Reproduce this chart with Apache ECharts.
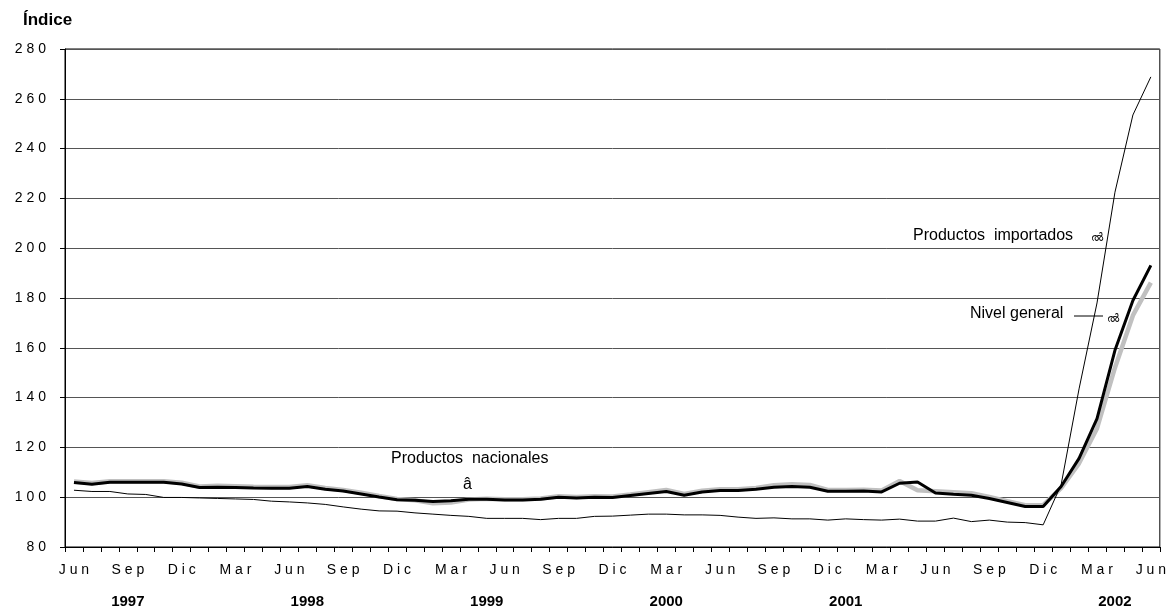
<!DOCTYPE html>
<html>
<head>
<meta charset="utf-8">
<script src="https://cdn.jsdelivr.net/npm/echarts@6/dist/echarts.min.js"></script>
<style>
  html, body { margin: 0; padding: 0; background: #fff; }
  #chart { width: 1169px; height: 609px; }
</style>
</head>
<body>
<div id="chart"></div>
<script>
// month names and the first month of the series (Jun 1997 .. Jun 2002)
const monthNames = ['Ene', 'Feb', 'Mar', 'Abr', 'May', 'Jun', 'Jul', 'Ago', 'Sep', 'Oct', 'Nov', 'Dic']
const startYear = 1997
const startMonth = 5

const categories = []
for (let i = 0; i < 61; i++) {
  const m = (startMonth + i) % 12
  const y = startYear + Math.floor((startMonth + i) / 12)
  categories.push(monthNames[m] + ' ' + y)
}

// year captions under the month labels, and the month each one sits under
const yearLabels = ['1997', '1998', '1999', '2000', '2001', '2002']
const yearAnchors = ['Sep 1997', 'Jul 1998', 'May 1999', 'Mar 2000', 'Ene 2001', 'Abr 2002']

const yTicks = { min: 80, max: 280, step: 20 }

const nivelGeneral = [
  105.9, 105.2, 106.0, 106.0, 106.0, 106.0, 105.3, 103.9, 104.0, 103.9, 103.7, 103.6, 103.6, 104.3, 103.2,
  102.5, 101.3, 100.1, 99.0, 98.8, 98.3, 98.6, 99.2, 99.2, 98.9, 98.9, 99.2, 100.0, 99.7, 100.0,
  99.9, 100.7, 101.5, 102.3, 100.8, 102.1, 102.7, 102.7, 103.2, 104.0, 104.3, 104.0, 102.4, 102.4, 102.5,
  102.1, 105.6, 106.1, 101.7, 101.2, 100.8, 99.5, 97.9, 96.3, 96.3,
  104.3, 115.6, 131.6, 159.0, 179.0, 193.1
]

const productosNacionales = [
  106.3, 105.7, 106.4, 106.4, 106.4, 106.4, 105.8, 104.3, 104.6, 104.4, 104.2, 104.1, 104.1, 104.8, 103.7,
  102.9, 101.8, 100.5, 99.3, 98.8, 97.6, 97.9, 99.1, 99.4, 99.2, 99.2, 99.5, 100.4, 100.1, 100.4,
  100.3, 101.1, 102.0, 102.9, 101.3, 102.6, 103.2, 103.2, 103.7, 104.8, 105.2, 104.9, 102.9, 102.9, 103.0,
  102.7, 106.5, 102.8, 102.4, 102.0, 101.6, 100.1, 98.4, 96.8, 96.8,
  103.6, 113.6, 127.6, 152.0, 173.0, 186.2
]

const productosImportados = [
  102.8, 102.3, 102.3, 101.3, 101.1, 99.9, 99.9, 99.7, 99.5, 99.3, 99.1, 98.4, 98.1, 97.7, 97.1,
  96.1, 95.2, 94.5, 94.4, 93.7, 93.2, 92.7, 92.3, 91.5, 91.5, 91.5, 91.0, 91.5, 91.5, 92.3,
  92.4, 92.8, 93.2, 93.2, 92.9, 92.9, 92.7, 92.0, 91.5, 91.7, 91.3, 91.3, 90.8, 91.3, 91.0,
  90.8, 91.2, 90.4, 90.4, 91.6, 90.2, 90.8, 90.0, 89.8, 88.9,
  105.0, 143.5, 178.0, 222.5, 253.5, 268.8
]

const spaced = (s) => String(s).split('').join(' ')
const font = 'Liberation Sans, Arial, sans-serif'

const chart = echarts.init(document.getElementById('chart'))

chart.setOption({
  animation: false,
  textStyle: { fontFamily: font },
  grid: {
    left: 65, right: 6, top: 49, bottom: 61,
    show: true, borderColor: '#000', borderWidth: 1
  },
  xAxis: [
    {
      type: 'category',
      data: categories,
      boundaryGap: true,
      axisLine: { lineStyle: { color: '#000', width: 1 } },
      axisTick: { show: true, interval: 0, length: 5, lineStyle: { color: '#000' } },
      axisLabel: {
        interval: 2,
        margin: 16,
        color: '#000',
        fontSize: 14,
        fontFamily: font,
        formatter: (v) => spaced(v.split(' ')[0])
      },
      splitLine: { show: false }
    },
    {
      type: 'category',
      data: categories,
      position: 'bottom',
      boundaryGap: true,
      axisLine: { show: false },
      axisTick: { show: false },
      axisLabel: {
        interval: 0,
        margin: 47,
        color: '#000',
        fontSize: 15,
        fontWeight: 'bold',
        fontFamily: font,
        formatter: (v) => {
          const k = yearAnchors.indexOf(v)
          return k >= 0 ? yearLabels[k] : ''
        }
      }
    }
  ],
  yAxis: {
    type: 'value',
    min: yTicks.min,
    max: yTicks.max,
    interval: yTicks.step,
    axisLine: { show: true, lineStyle: { color: '#000', width: 1 } },
    axisTick: { show: true, length: 5, lineStyle: { color: '#000' } },
    axisLabel: {
      margin: 19,
      color: '#000',
      fontSize: 14,
      fontFamily: font,
      formatter: (v) => spaced(v)
    },
    splitLine: { show: true, lineStyle: { color: '#555', width: 1 } }
  },
  graphic: [
    { type: 'text', left: 23, top: 12, style: { text: 'Índice', font: 'bold 17px ' + font, fill: '#000' } },
    { type: 'text', left: 913, top: 228, style: { text: 'Productos  importados', font: '16px ' + font, fill: '#000' } },
    { type: 'text', left: 1091, top: 232, style: { text: 'ൽ', font: '11px ' + font, fill: '#000' } },
    { type: 'text', left: 970, top: 306, style: { text: 'Nivel general', font: '16px ' + font, fill: '#000' } },
    { type: 'line', shape: { x1: 1074, y1: 316, x2: 1103, y2: 316 }, style: { stroke: '#000', lineWidth: 1 } },
    { type: 'text', left: 1107, top: 313, style: { text: 'ൽ', font: '11px ' + font, fill: '#000' } },
    { type: 'text', left: 391, top: 451, style: { text: 'Productos  nacionales', font: '16px ' + font, fill: '#000' } },
    { type: 'text', left: 463, top: 477, style: { text: 'â', font: '16px ' + font, fill: '#000' } }
  ],
  series: [
    {
      name: 'Productos nacionales',
      type: 'line',
      data: productosNacionales,
      symbol: 'none',
      lineStyle: { color: '#c0c0c0', width: 4.5 },
      z: 2
    },
    {
      name: 'Nivel general',
      type: 'line',
      data: nivelGeneral,
      symbol: 'none',
      lineStyle: { color: '#000', width: 3 },
      z: 3
    },
    {
      name: 'Productos importados',
      type: 'line',
      data: productosImportados,
      symbol: 'none',
      lineStyle: { color: '#000', width: 1 },
      z: 4
    }
  ]
})
</script>
</body>
</html>
